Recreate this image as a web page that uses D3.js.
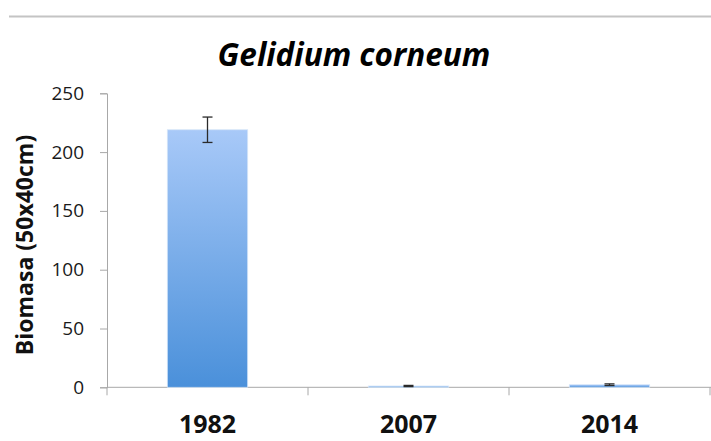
<!DOCTYPE html>
<html>
<head>
<meta charset="utf-8">
<script src="https://cdn.jsdelivr.net/npm/d3@7"></script>
<style>
  body { margin: 0; background: #fff; }
  svg { display: block; }
</style>
</head>
<body>
<svg id="chart" width="711" height="441"></svg>
<script>
const years = ['1982', '2007', '2014'];
const biomasa = [219, 1.1, 2.2];
const errors = [10.8, 0.5, 0.7];
const yTicks = [0, 50, 100, 150, 200, 250];

const svg = d3.select('#chart');
const margin = { left: 107, right: 0, top: 93.3, bottom: 53.7 };
const W = 711, H = 441;

// top rule
svg.append('line')
    .attr('x1', 9).attr('x2', W)
    .attr('y1', 16.5).attr('y2', 16.5)
    .attr('stroke', '#c4c4c4').attr('stroke-width', 2);

const x = d3.scaleBand()
    .domain(years)
    .range([margin.left, margin.left + 603])
    .paddingInner(0.6).paddingOuter(0.3);

const y = d3.scaleLinear()
    .domain([0, 250])
    .range([H - margin.bottom, margin.top]);

// gradient for bars
const defs = svg.append('defs');
const grad = defs.append('linearGradient')
    .attr('id', 'barGrad')
    .attr('x1', 0).attr('x2', 0).attr('y1', 0).attr('y2', 1);
grad.append('stop').attr('offset', '0%').attr('stop-color', '#a8c9f8');
grad.append('stop').attr('offset', '100%').attr('stop-color', '#4a90da');

// y axis
const yAxis = svg.append('g')
    .attr('transform', `translate(${margin.left},0)`)
    .call(d3.axisLeft(y).tickValues(yTicks).tickSize(7).tickPadding(16));
yAxis.select('.domain').attr('stroke', '#a8a8a8');
yAxis.selectAll('.tick line').attr('stroke', '#a8a8a8');
yAxis.selectAll('.tick text')
    .attr('font-family', 'Open Sans, sans-serif')
    .attr('font-size', 19)
    .attr('fill', '#1a1a1a');

// x axis, ticks between categories
const xLine = svg.append('g');
xLine.append('line')
    .attr('x1', margin.left).attr('x2', W)
    .attr('y1', y(0)).attr('y2', y(0))
    .attr('stroke', '#a8a8a8');
const bounds = [margin.left].concat(years.map(d => x(d) + x.bandwidth() / 2 + x.step() / 2));
xLine.selectAll('.xt')
    .data(bounds)
    .enter().append('line')
    .attr('x1', d => d).attr('x2', d => d)
    .attr('y1', y(0)).attr('y2', y(0) + 8)
    .attr('stroke', '#a8a8a8');
xLine.selectAll('.xl')
    .data(years)
    .enter().append('text')
    .attr('x', d => x(d) + x.bandwidth() / 2)
    .attr('y', 433)
    .attr('text-anchor', 'middle')
    .attr('font-family', 'Open Sans, sans-serif')
    .attr('font-weight', 'bold')
    .attr('font-size', 25)
    .attr('fill', '#111')
    .text(d => d);

// bars
svg.selectAll('.bar')
    .data(years)
    .enter().append('rect')
    .attr('x', d => x(d))
    .attr('width', x.bandwidth())
    .attr('y', (d, i) => y(biomasa[i]))
    .attr('height', (d, i) => y(0) - y(biomasa[i]))
    .attr('fill', 'url(#barGrad)')
    .attr('stroke', '#d6e5f8')
    .attr('stroke-width', 0.8);

// error bars
const eb = svg.selectAll('.err')
    .data(years)
    .enter().append('g')
    .attr('stroke', '#2a2a2a')
    .attr('stroke-width', 1.3);
eb.append('line')
    .attr('x1', d => x(d) + x.bandwidth() / 2)
    .attr('x2', d => x(d) + x.bandwidth() / 2)
    .attr('y1', (d, i) => y(biomasa[i] + errors[i]))
    .attr('y2', (d, i) => y(biomasa[i] - errors[i]));
eb.append('line')
    .attr('x1', d => x(d) + x.bandwidth() / 2 - 5)
    .attr('x2', d => x(d) + x.bandwidth() / 2 + 5)
    .attr('y1', (d, i) => y(biomasa[i] + errors[i]))
    .attr('y2', (d, i) => y(biomasa[i] + errors[i]));
eb.append('line')
    .attr('x1', d => x(d) + x.bandwidth() / 2 - 5)
    .attr('x2', d => x(d) + x.bandwidth() / 2 + 5)
    .attr('y1', (d, i) => y(biomasa[i] - errors[i]))
    .attr('y2', (d, i) => y(biomasa[i] - errors[i]));

// title
svg.append('text')
    .attr('x', 354)
    .attr('y', 66)
    .attr('text-anchor', 'middle')
    .attr('font-family', 'Open Sans, sans-serif')
    .attr('font-weight', 'bold')
    .attr('font-style', 'italic')
    .attr('font-size', 31.5)
    .attr('fill', '#000')
    .text('Gelidium corneum');

// y label
svg.append('text')
    .attr('transform', 'translate(33,245) rotate(-90)')
    .attr('text-anchor', 'middle')
    .attr('font-family', 'Open Sans, sans-serif')
    .attr('font-weight', 'bold')
    .attr('font-size', 23)
    .attr('fill', '#111')
    .text('Biomasa (50x40cm)');
</script>
</body>
</html>
